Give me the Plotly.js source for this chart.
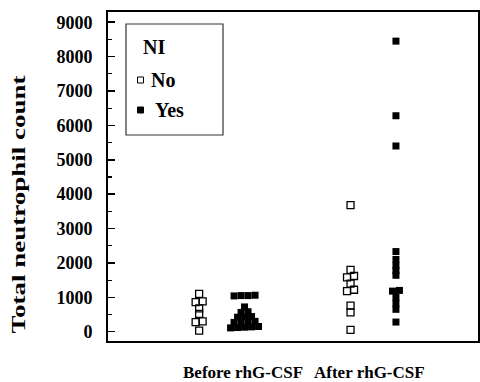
<!DOCTYPE html>
<html>
<head>
<meta charset="utf-8">
<script src="https://cdn.plot.ly/plotly-3.0.1.min.js"></script>
<style>html,body{margin:0;padding:0;background:#fff;}</style>
</head>
<body>
<div id="chart" style="width:480px;height:382px;"></div>
<script>
// ---- data ----
const categories = ['Before rhG-CSF', 'After rhG-CSF'];
const niGroups = ['No', 'Yes'];
const legendTitle = 'NI';
const beforeNo = [1100, 880, 860, 680, 520, 300, 280, 30];
const beforeYes = [1060, 1050, 1050, 1040, 720, 580, 560, 440, 430, 420, 300, 290, 280, 270, 150, 140, 130, 120, 110];
const afterNo = [3680, 1800, 1620, 1580, 1400, 1220, 1180, 760, 560, 50];
const afterYes = [8450, 6280, 5400, 2330, 2100, 1920, 1780, 1640, 1200, 1180, 1000, 820, 650, 280];
const yTickVals = [0, 1000, 2000, 3000, 4000, 5000, 6000, 7000, 8000, 9000];

// ---- layout constants ----
const W = 480, H = 382;
const M = {l: 108, r: 2, t: 12, b: 41};
const PW = W - M.l - M.r, PH = H - M.t - M.b;
const xRange = [0.248, 2.692];
const yRange = [-271, 9297];
const pxPerX = PW / (xRange[1] - xRange[0]);
const pxPerY = PH / (yRange[1] - yRange[0]);
const markerPx = 7;
const stepPx = 7;
const subOffset = {No: -0.15, Yes: 0.15};
const FONT = 'Liberation Serif, Times New Roman, serif';
const px2x = p => (p - M.l) / PW;
const px2y = p => (H - M.b - p) / PH;

// simple dot-plot swarm: points closer than a fraction of a marker height share a row, rows are centred
function swarm(values, centre) {
  const thr = 0.6 * markerPx / pxPerY;
  const idx = values.map((v, i) => i).sort((a, b) => values[a] - values[b]);
  const xs = new Array(values.length);
  let row = [];
  const flush = () => {
    row.forEach((k, j) => {
      xs[k] = centre + (j - (row.length - 1) / 2) * stepPx / pxPerX;
    });
    row = [];
  };
  idx.forEach(k => {
    if (row.length && values[k] - values[row[0]] > thr) flush();
    row.push(k);
  });
  flush();
  return xs;
}

const series = {
  No: [beforeNo, afterNo],
  Yes: [beforeYes, afterYes]
};

const traces = niGroups.map(g => {
  let xs = [], ys = [];
  series[g].forEach((vals, ci) => {
    xs = xs.concat(swarm(vals, ci + 1 + subOffset[g]));
    ys = ys.concat(vals);
  });
  return {
    type: 'scatter', mode: 'markers', name: g, x: xs, y: ys,
    marker: g === 'No'
      ? {symbol: 'square-open', size: markerPx, color: '#000', line: {color: '#000', width: 1.3}}
      : {symbol: 'square', size: markerPx, color: '#000', line: {width: 0}},
    hoverinfo: 'y', showlegend: false
  };
});

// category labels under the axis
const labelCentrePx = [243, 369];
const annotations = categories.map((c, i) => ({
  text: c, xref: 'paper', yref: 'paper', x: px2x(labelCentrePx[i]), y: px2y(372.5),
  showarrow: false, xanchor: 'center', yanchor: 'middle',
  font: {family: FONT, size: 17, weight: 'bold', color: '#000'}
}));

// legend box (drawn by hand to match the reference box)
const lg = {x0: 126, x1: 223, y0: 24, y1: 135, symX: 140.5, textX: 149, rows: [80, 110], titleY: 46.5, sym: 6};
const shapes = [{
  type: 'rect', xref: 'paper', yref: 'paper',
  x0: px2x(lg.x0), x1: px2x(lg.x1), y0: px2y(lg.y1), y1: px2y(lg.y0),
  line: {color: '#333', width: 1.2}, fillcolor: 'rgba(255,255,255,0)'
}];
annotations.push({
  text: legendTitle, xref: 'paper', yref: 'paper', x: px2x(lg.x0 + 15), y: px2y(lg.titleY),
  showarrow: false, xanchor: 'left', yanchor: 'middle',
  font: {family: FONT, size: 20, weight: 'bold', color: '#000'}
});
niGroups.forEach((g, i) => {
  const cy = lg.rows[i];
  shapes.push({
    type: 'rect', xref: 'paper', yref: 'paper',
    x0: px2x(lg.symX - lg.sym / 2), x1: px2x(lg.symX + lg.sym / 2),
    y0: px2y(cy + lg.sym / 2), y1: px2y(cy - lg.sym / 2),
    line: {color: '#000', width: 1}, fillcolor: g === 'No' ? '#fff' : '#000'
  });
  annotations.push({
    text: g, xref: 'paper', yref: 'paper', x: px2x(lg.textX + (g === 'Yes' ? 4 : 0)), y: px2y(cy),
    showarrow: false, xanchor: 'left', yanchor: 'middle',
    font: {family: FONT, size: 20, weight: 'bold', color: '#000'}
  });
});

const layout = {
  width: W, height: H,
  margin: M,
  paper_bgcolor: '#fff', plot_bgcolor: '#fff',
  showlegend: false,
  xaxis: {
    range: xRange, showgrid: false, zeroline: false, showticklabels: false, ticks: '',
    showline: true, linecolor: '#000', linewidth: 2, mirror: true, fixedrange: true
  },
  yaxis: {
    range: yRange, showgrid: false, zeroline: false,
    tickvals: yTickVals, ticks: 'inside', ticklen: 7, tickwidth: 1.5, tickcolor: '#000',
    minor: {dtick: 500, ticks: 'inside', ticklen: 4, tickwidth: 1.2, tickcolor: '#000', showgrid: false},
    tickfont: {family: FONT, size: 18, weight: 'bold', color: '#000'},
    ticklabelstandoff: 10,
    showline: true, linecolor: '#000', linewidth: 2, mirror: true,
    title: {text: 'Total neutrophil count', font: {family: FONT, size: 18, weight: 'bold', color: '#000'}, standoff: 26},
    fixedrange: true
  },
  shapes: shapes,
  annotations: annotations
};

Plotly.newPlot('chart', traces, layout, {displayModeBar: false, staticPlot: true}).then(gd => {
  // the reference title is set in a wider face and sits lower: stretch it to the same length and move it down
  const t = gd.querySelector('.ytitle');
  if (t) {
    t.setAttribute('textLength', '258');
    t.setAttribute('lengthAdjust', 'spacingAndGlyphs');
    t.setAttribute('transform', 'translate(0,28) ' + (t.getAttribute('transform') || ''));
  }
});
</script>
</body>
</html>
